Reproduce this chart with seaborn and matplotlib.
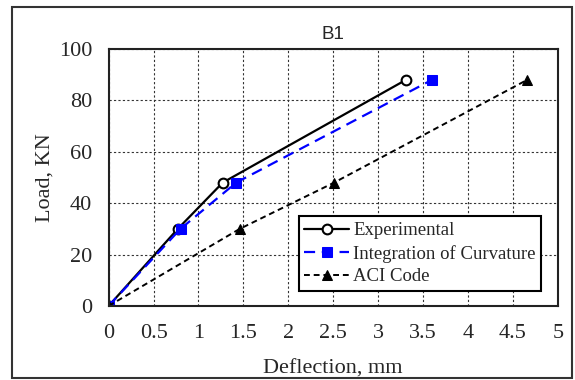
import pandas as pd
import matplotlib.pyplot as plt
import seaborn as sns

# podatki odčitani s slike
exp_x = [0, 0.77, 1.27, 3.31]
exp_y = [0, 30, 48, 88]
curv_x = [0, 0.8, 1.42, 3.6]
curv_y = [0, 30, 48, 88]
aci_x = [0, 1.46, 2.51, 4.66]
aci_y = [0, 30, 48, 88]
x_ticks = [0, 0.5, 1, 1.5, 2, 2.5, 3, 3.5, 4, 4.5, 5]
x_labels = ['0', '0.5', '1', '1.5', '2', '2.5', '3', '3.5', '4', '4.5', '5']
y_ticks = [0, 20, 40, 60, 80, 100]

sns.set_style('white')
plt.rcParams['font.family'] = ['Liberation Serif', 'DejaVu Serif']

fig = plt.figure(figsize=(5.75, 3.8), dpi=100)
ax = fig.add_axes([0.189, 0.195, 0.781, 0.676])

sns.lineplot(x=exp_x, y=exp_y, ax=ax, color='black', lw=1.6, marker='o',
             markersize=7, markerfacecolor='white', markeredgecolor='black',
             markeredgewidth=1.5, label='Experimental')
sns.lineplot(x=curv_x, y=curv_y, ax=ax, color='#0000ff', lw=1.6, marker='s',
             markersize=7, markerfacecolor='#0000ff', markeredgecolor='#0000ff',
             label='Integration of Curvature')
sns.lineplot(x=aci_x, y=aci_y, ax=ax, color='black', lw=1.4, marker='^',
             markersize=7, markerfacecolor='black', markeredgecolor='black',
             label='ACI Code')
ax.lines[1].set_dashes([5, 3])
ax.lines[2].set_dashes([3, 2])

ax.set_xlim(0, 5)
ax.set_ylim(0, 100)
ax.set_xticks(x_ticks)
ax.set_xticklabels(x_labels)
ax.set_yticks(y_ticks)
ax.tick_params(axis='x', labelsize=16, length=0, pad=13)
ax.tick_params(axis='y', labelsize=16, length=0, pad=12)
ax.grid(True, color='#333333', linestyle=(0, (2, 2)), lw=0.8)
for s in ax.spines.values():
    s.set_color('#222222')
    s.set_linewidth(1.5)

ax.set_xlabel('Deflection, mm', fontsize=16, labelpad=12)
ax.set_ylabel('Load, KN', fontsize=16, labelpad=3)
ax.set_title('B1', fontsize=13.5, family='Liberation Sans', pad=7)

leg = ax.legend(loc='lower right', bbox_to_anchor=(0.963, 0.058), fontsize=13.5,
                frameon=True, fancybox=False, edgecolor='black', framealpha=1,
                handlelength=2.4, handletextpad=0.2, borderpad=0.3, labelspacing=0.3,
                borderaxespad=0)
leg.get_frame().set_linewidth(1.5)

fig.patches.append(plt.Rectangle((0.021, 0.005), 0.974, 0.976, transform=fig.transFigure,
                                 fill=False, edgecolor='#333333', lw=1.5))
fig.savefig('out.png', dpi=100)
